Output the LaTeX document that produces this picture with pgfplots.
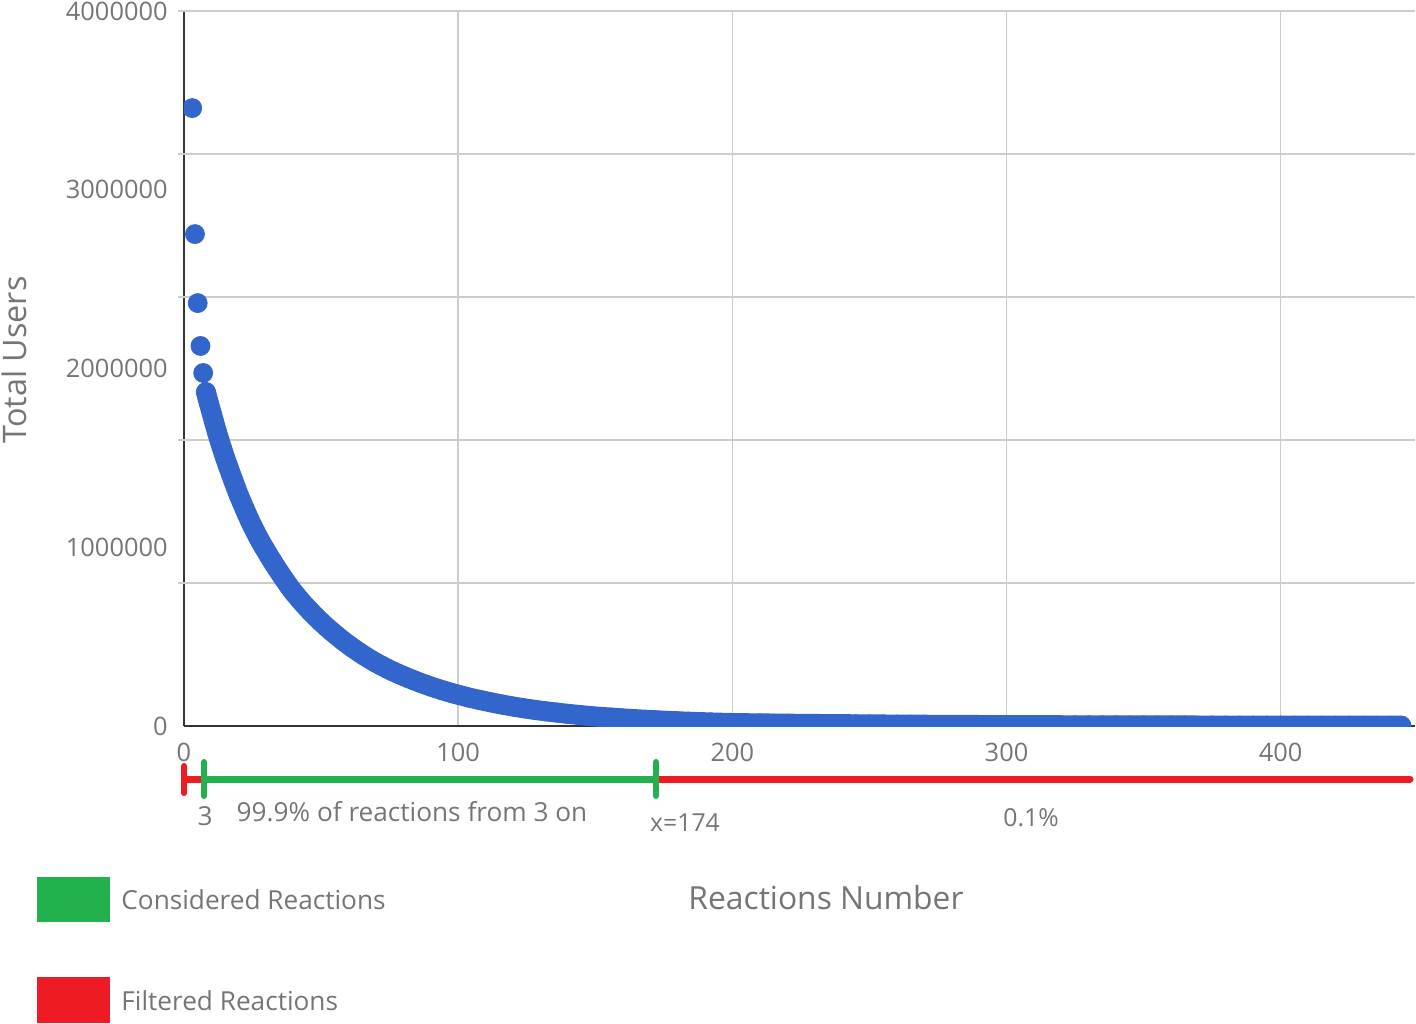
\documentclass[border=0pt]{standalone}
\usepackage{pgfplots}
\pgfplotsset{compat=1.18}
\usepackage{pgfplotstable}
\usepackage{fontspec}
\setmainfont{Open Sans}

\definecolor{gblue}{HTML}{3366CC}
\definecolor{okgreen}{HTML}{22B14C}
\definecolor{badred}{HTML}{ED1C24}
\definecolor{txtgray}{HTML}{757575}
\definecolor{gridgray}{HTML}{CCCCCC}
\definecolor{axisgray}{HTML}{333333}

% reactions number vs total users
\pgfplotstableread{
x y
3 3457000
4 2752000
5 2366000
6 2126000
7 1975000
8 1868000
9 1810000
10 1755000
11 1700000
12 1645000
13 1595000
14 1547000
15 1500000
16 1457000
17 1414000
18 1372000
19 1331000
20 1291000
21 1255000
22 1219000
23 1184000
24 1150000
25 1118000
26 1088000
27 1058000
28 1030000
29 1003000
30 978000
31 952000
32 927000
33 903000
34 879000
35 856000
36 833000
37 811000
38 789000
39 768000
40 748000
42 711000
44 676000
46 643000
48 612000
50 582000
52 554000
54 527000
56 502000
58 477000
60 454000
62 432000
64 411000
66 391000
68 372000
70 354000
72 338000
74 322000
76 307000
78 293000
80 280000
82 267000
84 255000
86 243000
88 232000
90 221000
92 211000
94 201000
96 192000
98 183000
100 175000
104 159000
108 145000
112 132000
116 120000
120 109000
124 99000
128 90000
132 82000
136 75000
140 68000
144 62000
148 56000
152 51000
156 47000
160 42500
164 38700
168 35200
172 32000
176 29000
180 26500
184 24000
188 22000
192 20000
196 18200
200 16600
205 15600
210 14700
215 13800
220 13000
225 12200
230 11500
235 10800
240 10200
245 9600
250 9000
255 8500
260 8000
265 7500
270 7100
275 6700
280 6300
285 5900
290 5600
295 5300
300 5000
305 4800
310 4600
315 4400
320 4200
325 4000
330 3850
335 3700
340 3550
345 3400
350 3250
355 3100
360 3000
365 2900
370 2800
375 2700
380 2600
385 2500
390 2400
395 2350
400 2300
405 2200
410 2150
415 2100
420 2050
425 2000
430 1950
435 1900
440 1850
444 1800
}\users

\begin{document}
\begin{tikzpicture}
\begin{axis}[
  at={(92pt,148.5pt)}, anchor=south west,
  scale only axis,
  width=615.5pt, height=357.5pt,
  xmin=0, xmax=449,
  ymin=0, ymax=4000000,
  axis lines=left,
  axis line style={-, draw=axisgray, line width=1pt},
  xtick={0,100,200,300,400},
  xmajorgrids,
  ytick={0,1000000,2000000,3000000,4000000},
  extra y ticks={800000,1600000,2400000,3200000,4000000},
  extra y tick labels={},
  extra y tick style={grid=major, major tick length=3pt, tick align=outside,
    tick style={draw=gridgray, line width=0.75pt}},
  grid style={draw=gridgray, line width=0.75pt},
  major tick length=0pt,
  /pgf/number format/assume math mode=true,
  /pgf/number format/fixed,
  /pgf/number format/1000 sep={},
  scaled y ticks=false,
  tick label style={font=\fontsize{12.7}{14}\selectfont, text=txtgray},
  xticklabel style={anchor=base, inner sep=0pt, yshift=-17.5pt},
  yticklabel style={anchor=east, inner sep=0pt, xshift=-8pt},
  clip marker paths=true,
]
% dense part drawn as a thick band through the same points
\addplot[draw=gblue, line width=10pt, line join=round, line cap=round,
  restrict x to domain=8:450, forget plot] table[x=x, y=y] {\users};
\addplot[only marks, mark=*, mark size=4.75pt,
  mark options={draw=gblue, fill=gblue}] table[x=x, y=y] {\users};
\end{axis}

% reaction range bar under the axis
\draw[badred, line width=3.5pt] (92pt,122pt) -- (102pt,122pt);
\draw[okgreen, line width=3.5pt] (102pt,122pt) -- (328pt,122pt);
\draw[badred, line width=3.5pt, line cap=round] (328pt,122pt) -- (705pt,122pt);
\draw[badred, line width=3pt, line cap=round] (92pt,115pt) -- (92pt,128.5pt);
\draw[okgreen, line width=3pt, line cap=round] (102pt,113.5pt) -- (102pt,130.5pt);
\draw[okgreen, line width=3pt, line cap=round] (328pt,113.5pt) -- (328pt,130.5pt);

\begin{scope}[every node/.style={text=txtgray, font=\fontsize{13.1}{15}\selectfont, inner sep=0pt}]
\node at (102.5pt,103.5pt) {3};
\node at (206pt,105.5pt) {99.9\% of reactions from 3 on};
\node[font=\fontsize{12.4}{15}\selectfont] at (342.5pt,100pt) {x=174};
\node[font=\fontsize{12.4}{15}\selectfont] at (515.5pt,102.5pt) {0.1\%};
\end{scope}

\node[text=txtgray, font=\fontsize{15.9}{18}\selectfont, inner sep=0pt] at (413pt,62.5pt) {Reactions Number};
\node[text=txtgray, font=\fontsize{16.2}{18}\selectfont, inner sep=0pt, rotate=90] at (7pt,331.5pt) {Total Users};

% legend
\fill[okgreen] (18.5pt,50.5pt) rectangle (55pt,73pt);
\fill[badred] (18.5pt,0pt) rectangle (55pt,23pt);
\node[anchor=west, text=txtgray, font=\fontsize{13.1}{16}\selectfont, inner sep=0pt] at (60.5pt,61.5pt) {Considered Reactions};
\node[anchor=west, text=txtgray, font=\fontsize{13.1}{16}\selectfont, inner sep=0pt] at (60.5pt,11pt) {Filtered Reactions};

\pgfresetboundingbox
\useasboundingbox (0,0) rectangle (708pt,511.5pt);
\end{tikzpicture}
\end{document}
